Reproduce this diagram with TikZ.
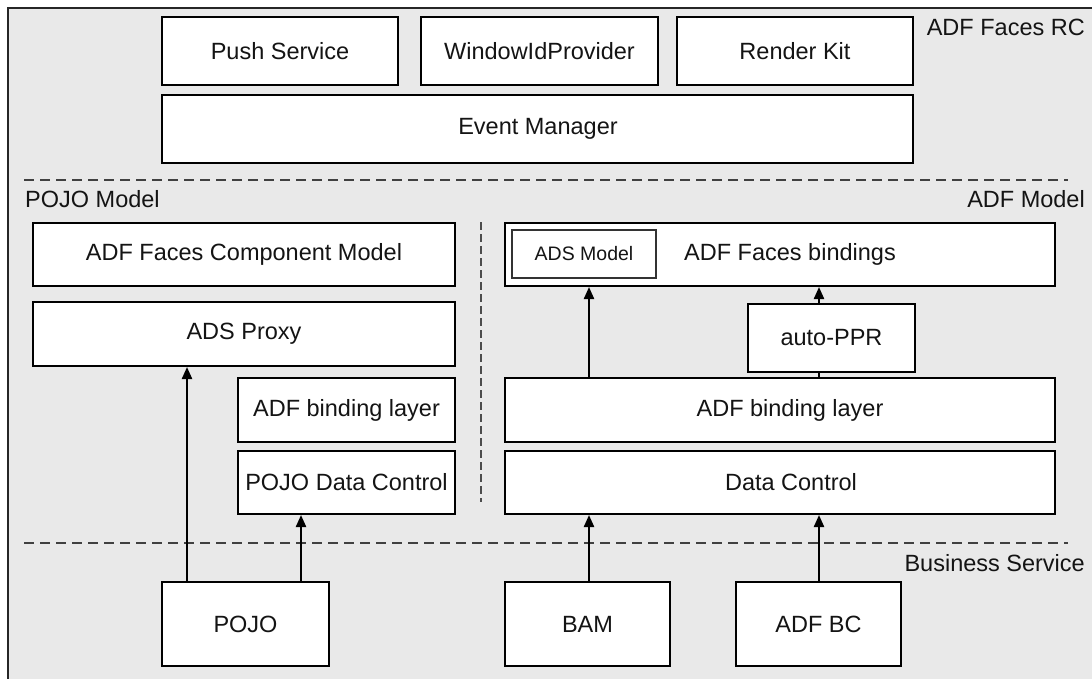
\documentclass[tikz,border=0pt]{standalone}
\usepackage{fontspec}
\setmainfont{Liberation Sans}
\usetikzlibrary{arrows.meta}
\definecolor{bgfill}{HTML}{E9E9E9}
\definecolor{txt}{HTML}{141414}
\tikzset{
  box/.style={draw=black, line width=2pt, fill=white, inner sep=0pt, text=txt,
    font=\fontsize{23.5}{27}\selectfont},
  lbl/.style={inner sep=0pt, text=txt, font=\fontsize{23.5}{27}\selectfont},
  divider/.style={draw=black!75, line width=1.3pt, dash pattern=on 10pt off 6pt},
  arr/.style={draw=black, line width=2.2pt, -{Triangle[length=12pt,width=10pt]}},
  plain/.style={draw=black, line width=2.2pt}
}
\begin{document}
\begin{tikzpicture}[x=1pt,y=-1pt]
\useasboundingbox (0,0) rectangle (1092,678);
\clip (0,0) rectangle (1092,678);
% frame
\draw[draw=black!85, line width=2pt, fill=bgfill] (8,8) rectangle (1110,700);

% top layer
\node[box, minimum width=236pt, minimum height=68pt] (push) at (280,51) {Push Service};
\node[box, minimum width=237pt, minimum height=68pt] (win) at (539.5,51) {WindowIdProvider};
\node[box, minimum width=236pt, minimum height=68pt] (render) at (795,51) {Render Kit};
\node[box, minimum width=751pt, minimum height=68pt] (event) at (537.5,129) {};
\node[lbl] (eventlbl) at (538,129) {Event Manager};
\node[lbl, anchor=east] (rc) at (1085,27) {ADF Faces RC};

% dividers
\coordinate (d1a) at (24,180);
\coordinate (d1b) at (1068,180);
\draw[divider] (d1a) -- (d1b);
\coordinate (d2a) at (24,543);
\coordinate (d2b) at (1068,543);
\draw[divider] (d2a) -- (d2b);
\coordinate (v1a) at (481,222);
\coordinate (v1b) at (481,502);
\draw[divider, draw=black!70, line width=1.5pt, dash pattern=on 8pt off 4pt] (v1a) -- (v1b);

\node[lbl, anchor=west] (pojomodel) at (25,199) {POJO Model};
\node[lbl, anchor=east] (adfmodel) at (1085,199) {ADF Model};
\node[lbl, anchor=east] (bs) at (1085,563) {Business Service};

% left column
\node[box, minimum width=422pt, minimum height=63pt] (afcm) at (244,254.5) {ADF Faces Component Model};
\node[box, minimum width=422pt, minimum height=64pt] (proxy) at (244,334) {ADS Proxy};
\node[box, minimum width=217pt, minimum height=64pt] (bindl) at (346.5,410) {ADF binding layer};
\node[box, minimum width=217pt, minimum height=63pt] (pdc) at (346.5,482.5) {POJO Data Control};

% right column
\node[box, minimum width=550pt, minimum height=63pt] (afb) at (780,254.5) {};
\node[lbl] (afblbl) at (790,254) {ADF Faces bindings};
\node[draw=black!80, line width=1.2pt, fill=white, inner sep=0pt, text=txt,
  font=\fontsize{19.5}{22}\selectfont, minimum width=144pt, minimum height=48pt] (adsm) at (584,254) {ADS Model};
\node[box, minimum width=167pt, minimum height=68pt] (ppr) at (831.5,338) {auto-PPR};
\node[box, minimum width=550pt, minimum height=64pt] (bindr) at (780,410) {};
\node[lbl] (bindrlbl) at (790,410) {ADF binding layer};
\node[box, minimum width=550pt, minimum height=63pt] (dc) at (780,482.5) {};
\node[lbl] (dclbl) at (791,482.5) {Data Control};

% bottom
\node[box, minimum width=167pt, minimum height=84pt] (pojo) at (245.5,624) {POJO};
\node[box, minimum width=165pt, minimum height=84pt] (bam) at (587.5,624) {BAM};
\node[box, minimum width=165pt, minimum height=84pt] (adfbc) at (818.5,624) {ADF BC};

% arrow x positions
\coordinate (xa) at (187,0);
\coordinate (xb) at (301,0);
\coordinate (xc) at (589,0);
\coordinate (xd) at (819,0);

\draw[arr] (pojo.north -| xa) -- (proxy.south -| xa);
\draw[arr] (pojo.north -| xb) -- (pdc.south -| xb);
\draw[arr] (bam.north -| xc) -- (dc.south -| xc);
\draw[arr] (adfbc.north -| xd) -- (dc.south -| xd);
\draw[arr] (bindr.north -| xc) -- (afb.south -| xc);
\draw[plain] (bindr.north -| xd) -- (ppr.south -| xd);
\draw[arr] (ppr.north -| xd) -- (afb.south -| xd);
\end{tikzpicture}
\end{document}
